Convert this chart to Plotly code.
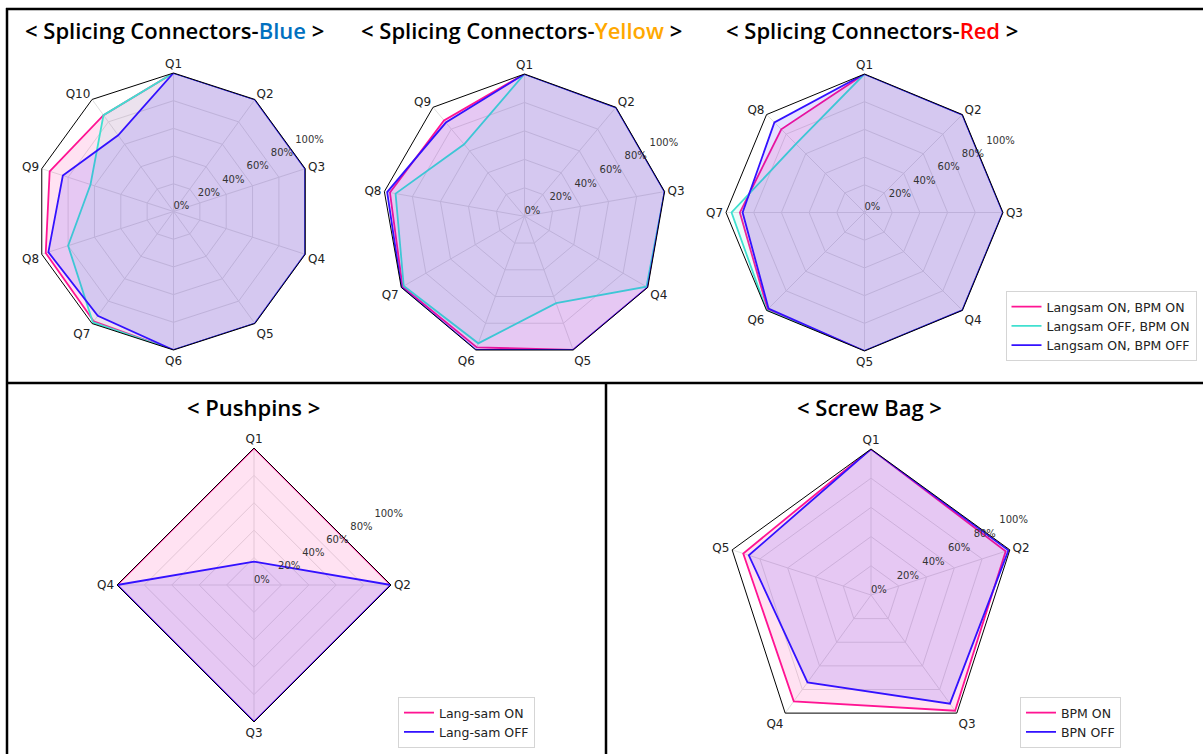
import plotly.graph_objects as go

W, H = 1203, 754

# ---------------- data ----------------
blue_axes = ["Q1", "Q2", "Q3", "Q4", "Q5", "Q6", "Q7", "Q8", "Q9", "Q10"]
blue_on_on = [100, 100, 100, 100, 100, 100, 98, 97, 94, 86]
blue_off_on = [100, 100, 100, 100, 100, 100, 99, 80, 63, 86]
blue_on_off = [100, 100, 100, 100, 100, 100, 93, 95, 84, 68]

yellow_axes = ["Q1", "Q2", "Q3", "Q4", "Q5", "Q6", "Q7", "Q8", "Q9"]
yellow_on_on = [100, 100, 100, 100, 100, 98, 99, 96, 88]
yellow_off_on = [100, 100, 100, 99, 65, 95, 98, 92, 66]
yellow_on_off = [100, 100, 100, 100, 100, 100, 100, 98, 86]

red_axes = ["Q1", "Q2", "Q3", "Q4", "Q5", "Q6", "Q7", "Q8"]
red_on_on = [100, 100, 100, 100, 100, 99, 90, 85]
red_off_on = [100, 100, 100, 100, 100, 100, 96, 70]
red_on_off = [100, 100, 100, 100, 100, 98, 88, 92]

pushpin_axes = ["Q1", "Q2", "Q3", "Q4"]
pushpin_on = [100, 100, 100, 100]
pushpin_off = [17, 100, 100, 100]

screw_axes = ["Q1", "Q2", "Q3", "Q4", "Q5"]
screw_on = [100, 97, 98, 90, 92]
screw_off = [100, 99, 92, 74, 88]

tick_values = [0, 20, 40, 60, 80, 100]
tick_labels = ["0%", "20%", "40%", "60%", "80%", "100%"]

series_names_3 = ["Langsam ON, BPM ON", "Langsam OFF, BPM ON", "Langsam ON, BPM OFF"]
series_names_push = ["Lang-sam ON", "Lang-sam OFF"]
series_names_screw = ["BPM ON", "BPN OFF"]

# ---------------- styles ----------------
PINK = "#ff1493"
TURQ = "#40e0d0"
BLUE = "#3311ff"
FILLS = {PINK: "rgba(255,20,147,0.12)", TURQ: "rgba(64,224,208,0.10)", BLUE: "rgba(51,17,255,0.12)"}
GRID = "#e0e0e0"
LABEL_ANGLE = 61.5  # direction of the radial percentage labels (deg clockwise from top)

# panel geometry in pixels: (center x, center y, radius)
panels = [
    (173.5, 211.5, 138.5),
    (524.5, 216.3, 142.3),
    (864.5, 212.5, 138.5),
    (254.0, 585.0, 137.0),
    (871.0, 595.0, 146.0),
]


def dom(cx, cy, r):
    return dict(x=[(cx - r) / W, (cx + r) / W], y=[(H - cy - r) / H, (H - cy + r) / H])


fig = go.Figure()

charts = [
    (blue_axes, [(blue_on_on, PINK), (blue_off_on, TURQ), (blue_on_off, BLUE)], series_names_3, None),
    (yellow_axes, [(yellow_on_on, PINK), (yellow_off_on, TURQ), (yellow_on_off, BLUE)], series_names_3, None),
    (red_axes, [(red_on_on, PINK), (red_off_on, TURQ), (red_on_off, BLUE)], series_names_3, "legend"),
    (pushpin_axes, [(pushpin_on, PINK), (pushpin_off, BLUE)], series_names_push, "legend2"),
    (screw_axes, [(screw_on, PINK), (screw_off, BLUE)], series_names_screw, "legend3"),
]

for i, (axes, series, names, leg) in enumerate(charts):
    sp = "polar" if i == 0 else f"polar{i + 1}"
    for (vals, col), name in zip(series, names):
        r = list(vals) + [vals[0]]
        th = list(axes) + [axes[0]]
        fig.add_trace(go.Scatterpolar(r=r, theta=th, subplot=sp, mode="lines", fill="toself",
                                      fillcolor=FILLS[col], line=dict(width=0, color=col),
                                      showlegend=False, hoverinfo="skip"))
        kw = dict(legend=leg, showlegend=True) if leg else dict(showlegend=False)
        fig.add_trace(go.Scatterpolar(r=r, theta=th, subplot=sp, mode="lines", name=name,
                                      line=dict(width=1.8, color=col), hoverinfo="skip", **kw))

# radial percentage labels on transparent overlay polars
for i in range(5):
    sp = f"polar{i + 6}"
    fig.add_trace(go.Scatterpolar(r=tick_values, theta=[LABEL_ANGLE] * len(tick_values), subplot=sp,
                                  mode="text", text=tick_labels, textposition="top right",
                                  textfont=dict(size=10, color="#333333", family="DejaVu Sans"),
                                  cliponaxis=False, showlegend=False, hoverinfo="skip"))

layout = dict(
    width=W, height=H, margin=dict(l=0, r=0, t=0, b=0), template="none",
    paper_bgcolor="white", plot_bgcolor="white",
    font=dict(family="DejaVu Sans", color="#222222"),
)

for i, (cx, cy, r) in enumerate(panels):
    key = "polar" if i == 0 else f"polar{i + 1}"
    layout[key] = dict(
        domain=dom(cx, cy, r), bgcolor="white", gridshape="linear",
        angularaxis=dict(rotation=90, direction="clockwise", showline=True, linecolor="black",
                         linewidth=1, gridcolor=GRID, gridwidth=1, ticks="",
                         tickfont=dict(size=12, color="#222222", family="DejaVu Sans")),
        radialaxis=dict(range=[0, 100], tickvals=tick_values, showticklabels=False, showline=False,
                        ticks="", gridcolor=GRID, gridwidth=1),
    )
    layout[f"polar{i + 6}"] = dict(
        domain=dom(cx, cy, r), bgcolor="rgba(0,0,0,0)",
        angularaxis=dict(visible=False, rotation=90, direction="clockwise", type="linear"),
        radialaxis=dict(visible=False, range=[0, 100]),
    )

leg_style = dict(bgcolor="white", bordercolor="#d5d5d5", borderwidth=1,
                 font=dict(size=12.5, color="#222222", family="DejaVu Sans"),
                 xanchor="left", yanchor="top", tracegroupgap=0)
layout["legend"] = dict(x=1005.5 / W, y=1 - 291 / H, **leg_style)
layout["legend2"] = dict(x=398 / W, y=1 - 697 / H, **leg_style)
layout["legend3"] = dict(x=1020 / W, y=1 - 697 / H, **leg_style)

title_font = dict(family="Open Sans", size=22, color="black", weight=600)
titles = [
    ("< Splicing Connectors-<span style='color:#0070c0'>Blue</span> >", 174, 30),
    ("< Splicing Connectors-<span style='color:#ffa800'>Yellow</span> >", 521, 30),
    ("< Splicing Connectors-<span style='color:#ff0000'>Red</span> >", 872, 30),
    ("< Pushpins >", 254, 407),
    ("< Screw Bag >", 869, 407),
]
layout["annotations"] = [dict(text=t, x=x / W, y=1 - y / H, xref="paper", yref="paper",
                              xanchor="center", yanchor="middle", showarrow=False, font=title_font)
                         for t, x, y in titles]

border = dict(color="black", width=2.5)
layout["shapes"] = [
    dict(type="line", xref="paper", yref="paper", x0=6 / W, x1=1, y0=1 - 9 / H, y1=1 - 9 / H, line=border),
    dict(type="line", xref="paper", yref="paper", x0=7 / W, x1=7 / W, y0=1 - 8 / H, y1=0, line=border),
    dict(type="line", xref="paper", yref="paper", x0=6 / W, x1=1, y0=1 - 383 / H, y1=1 - 383 / H, line=border),
    dict(type="line", xref="paper", yref="paper", x0=606 / W, x1=606 / W, y0=1 - 383 / H, y1=0, line=border),
]

fig.update_layout(**layout)
fig.write_html("out.html", config={"displayModeBar": False},
               post_script="document.body.style.margin='0px';document.body.style.overflow='hidden';")
